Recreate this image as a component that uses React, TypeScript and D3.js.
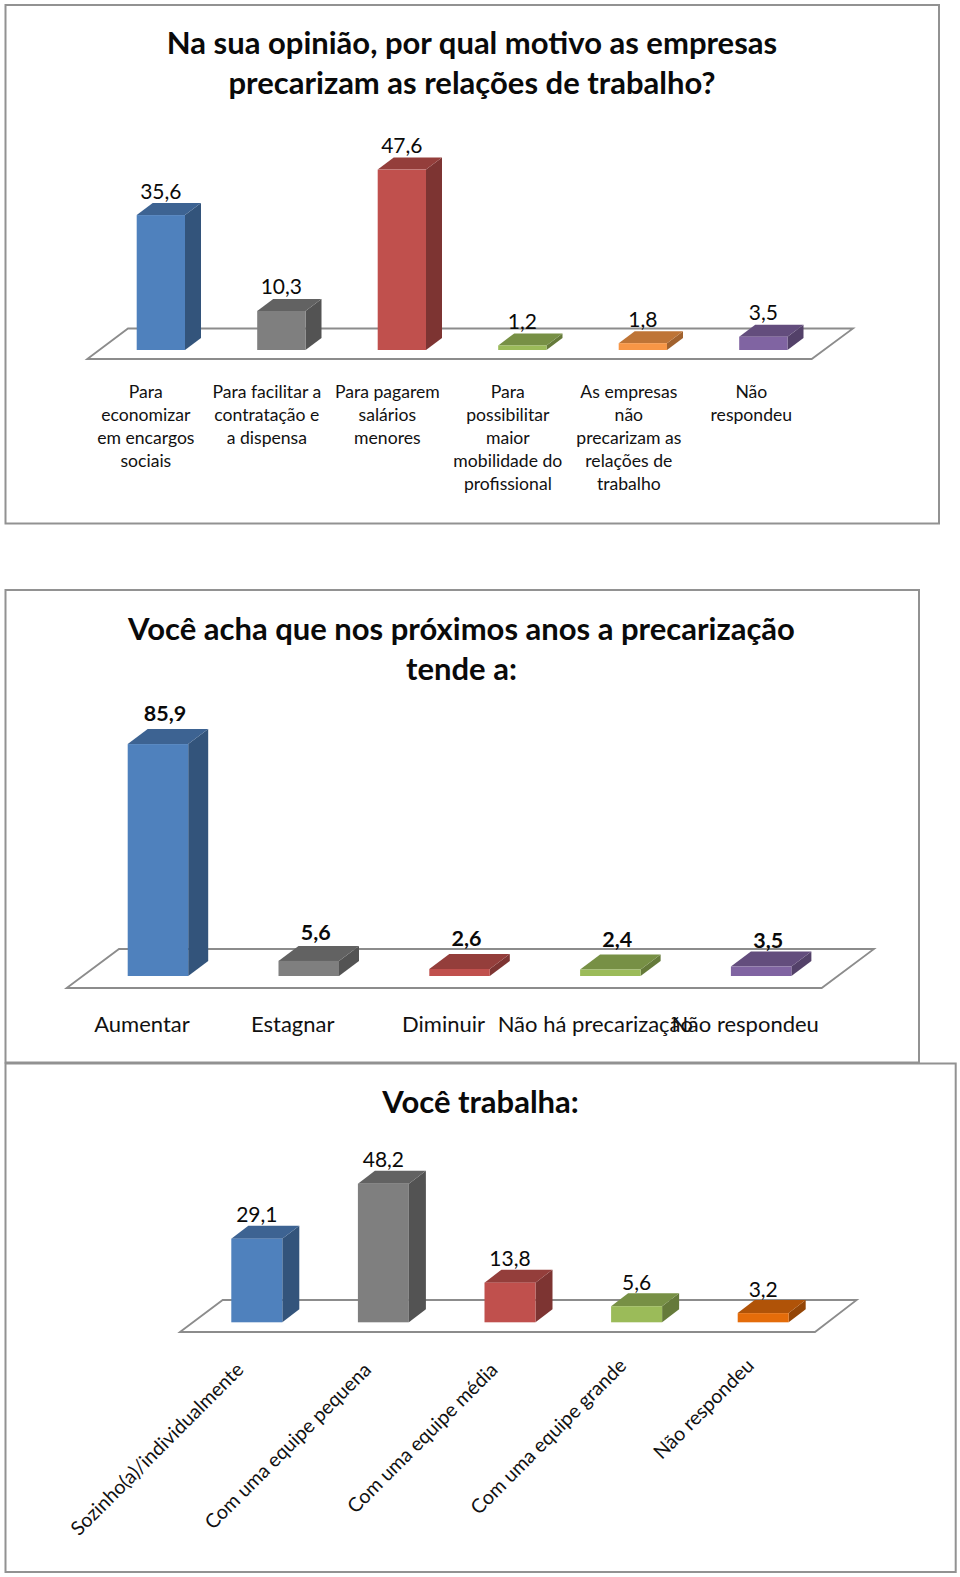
import { useEffect, useRef } from 'react'
import * as d3 from 'd3'

const motivoCategories = [
  'Para\neconomizar\nem encargos\nsociais',
  'Para facilitar a\ncontratação e\na dispensa',
  'Para pagarem\nsalários\nmenores',
  'Para\npossibilitar\nmaior\nmobilidade do\nprofissional',
  'As empresas\nnão\nprecarizam as\nrelações de\ntrabalho',
  'Não\nrespondeu',
]
const motivoValues = [35.6, 10.3, 47.6, 1.2, 1.8, 3.5]

const tendenciaCategories = ['Aumentar', 'Estagnar', 'Diminuir', 'Não há precarização', 'Não respondeu']
const tendenciaValues = [85.9, 5.6, 2.6, 2.4, 3.5]

const trabalhaCategories = [
  'Sozinho(a)/individualmente',
  'Com uma equipe pequena',
  'Com uma equipe média',
  'Com uma equipe grande',
  'Não respondeu',
]
const trabalhaValues = [29.1, 48.2, 13.8, 5.6, 3.2]

const blue = '#4f81bd'
const grey = '#7f7f7f'
const red = '#c0504d'
const green = '#9bbb59'
const orange = '#f79646'
const purple = '#8064a2'
const darkOrange = '#e46c0a'

const FONT = 'Lato, "Open Sans", sans-serif'

const fmt = (v: number) => v.toFixed(1).replace('.', ',')

const shade = (c: string, k: number) => {
  const r = d3.rgb(c)
  return d3.rgb(r.r * k, r.g * k, r.b * k).formatHex()
}

interface Panel {
  frame: [number, number, number, number]
  title: string[]
  titleX: number
  titleY: number
  categories: string[]
  values: number[]
  colors: string[]
  domainMax: number
  barLeft: number
  step: number
  barWidth: number
  base: number
  pxPerUnit: number
  dx: number
  dy: number
  floor: [number, number, number, number, number, number]
  labelBold?: boolean
  labelShift: number
  labelGaps: number[]
  labelSize: number
  catMode: 'wrap' | 'flat' | 'rotated'
  catSize: number
  catShift: number
  catY: number
  catNudgeX: number[]
  catNudgeY: number[]
}

const panels: Panel[] = [
  {
    frame: [5.5, 5, 939, 523.5],
    title: ['Na sua opinião, por qual motivo as empresas', 'precarizam as relações de trabalho?'],
    titleX: 472,
    titleY: 54,
    categories: motivoCategories,
    values: motivoValues,
    colors: [blue, grey, red, green, orange, purple],
    domainMax: 50,
    barLeft: 136.7,
    step: 120.5,
    barWidth: 48.3,
    base: 350,
    pxPerUnit: 3.79,
    dx: 16,
    dy: 12,
    floor: [87.3, 128, 853, 811.7, 328.5, 359],
    labelShift: 0,
    labelGaps: [16.5, 16.5, 16.5, 16.5, 16.5, 16.5],
    labelSize: 21,
    catMode: 'wrap',
    catSize: 17.6,
    catShift: -15,
    catY: 398,
    catNudgeX: [0, 0.5, 0.5, 0.5, 1, 3],
    catNudgeY: [0, 0, 0, 0, 0, 0],
  },
  {
    frame: [5.5, 590, 919, 1062.5],
    title: ['Você acha que nos próximos anos a precarização', 'tende a:'],
    titleX: 461.5,
    titleY: 639.5,
    categories: tendenciaCategories,
    values: tendenciaValues,
    colors: [blue, grey, red, green, purple],
    domainMax: 100,
    barLeft: 127.7,
    step: 150.8,
    barWidth: 60.5,
    base: 976,
    pxPerUnit: 2.7,
    dx: 20,
    dy: 15,
    floor: [66.7, 119, 874, 821.7, 949, 988],
    labelBold: true,
    labelShift: 7,
    labelGaps: [23, 21, 23, 23, 19],
    labelSize: 21.5,
    catMode: 'flat',
    catSize: 22,
    catShift: -16,
    catY: 1032,
    catNudgeX: [0, 0, 0, 1, 0],
    catNudgeY: [0, 0, 0, 0, 0],
  },
  {
    frame: [5.5, 1063.5, 955.7, 1572],
    title: ['Você trabalha:'],
    titleX: 480.6,
    titleY: 1112.5,
    categories: trabalhaCategories,
    values: trabalhaValues,
    colors: [blue, grey, red, green, darkOrange],
    domainMax: 60,
    barLeft: 231.3,
    step: 126.6,
    barWidth: 51,
    base: 1322.3,
    pxPerUnit: 2.875,
    dx: 17,
    dy: 13,
    floor: [180, 222.7, 856.7, 815, 1300, 1332],
    labelShift: 0,
    labelGaps: [16.3, 16.3, 16.3, 16.3, 16.3],
    labelSize: 21,
    catMode: 'rotated',
    catSize: 19.7,
    catShift: -13,
    catY: 1371,
    catNudgeX: [1, 2, 2, 4, 5],
    catNudgeY: [0, 0, 0, -4, -4],
  },
]

function drawPanel(svg: d3.Selection<SVGSVGElement, unknown, null, undefined>, p: Panel) {
  const [fx0, fy0, fx1, fy1] = p.frame
  const g = svg.append('g')

  g.append('rect')
    .attr('x', fx0)
    .attr('y', fy0)
    .attr('width', fx1 - fx0)
    .attr('height', fy1 - fy0)
    .attr('fill', '#fff')
    .attr('stroke', '#929292')
    .attr('stroke-width', 2)

  g.selectAll('text.title')
    .data(p.title)
    .enter()
    .append('text')
    .attr('class', 'title')
    .attr('x', p.titleX)
    .attr('y', (_, i) => p.titleY + i * 40)
    .attr('text-anchor', 'middle')
    .attr('font-family', FONT)
    .attr('font-weight', 700)
    .attr('font-size', 31)
    .attr('fill', '#0a0a0a')
    .text(d => d)

  const [fl, bl, br, fr, by, fy] = p.floor
  g.append('path')
    .attr('d', d3.line()([[fl, fy], [bl, by], [br, by], [fr, fy]]) + 'Z')
    .attr('fill', 'none')
    .attr('stroke', '#8c8c8c')
    .attr('stroke-width', 1.8)

  const n = p.categories.length
  const x = d3
    .scaleBand<string>()
    .domain(p.categories)
    .range([p.barLeft, p.barLeft + (n - 1) * p.step + p.barWidth])
    .paddingInner(1 - p.barWidth / p.step)
  const y = d3
    .scaleLinear()
    .domain([0, p.domainMax])
    .range([p.base, p.base - p.domainMax * p.pxPerUnit])

  const bars = g
    .selectAll('g.bar')
    .data(p.values)
    .enter()
    .append('g')
    .attr('class', 'bar')

  const left = (i: number) => x(p.categories[i]) as number
  const w = x.bandwidth()

  bars
    .append('path')
    .attr('fill', (_, i) => shade(p.colors[i], 0.65))
    .attr('d', (d, i) => {
      const r = left(i) + w
      return `M${r},${y(d)}L${r + p.dx},${y(d) - p.dy}L${r + p.dx},${p.base - p.dy}L${r},${p.base}Z`
    })
  bars
    .append('path')
    .attr('fill', (_, i) => shade(p.colors[i], 0.77))
    .attr('d', (d, i) => {
      const l = left(i)
      return `M${l},${y(d)}L${l + p.dx},${y(d) - p.dy}L${l + w + p.dx},${y(d) - p.dy}L${l + w},${y(d)}Z`
    })
  bars
    .append('rect')
    .attr('fill', (_, i) => p.colors[i])
    .attr('x', (_, i) => left(i))
    .attr('y', d => y(d))
    .attr('width', w)
    .attr('height', d => p.base - y(d))

  bars
    .append('text')
    .attr('x', (_, i) => left(i) + w / 2 + p.labelShift)
    .attr('y', (d, i) => y(d) - p.labelGaps[i])
    .attr('text-anchor', 'middle')
    .attr('font-family', FONT)
    .attr('font-size', p.labelSize)
    .attr('font-weight', p.labelBold ? 700 : 400)
    .attr('fill', '#0a0a0a')
    .text(d => fmt(d))

  const cats = g
    .selectAll('g.cat')
    .data(p.categories)
    .enter()
    .append('g')
    .attr('class', 'cat')
    .attr('font-family', FONT)
    .attr('font-size', p.catSize)
    .attr('fill', '#111')

  if (p.catMode === 'rotated') {
    cats
      .append('text')
      .attr('text-anchor', 'end')
      .attr(
        'transform',
        (d, i) =>
          `translate(${(x(d) as number) + w / 2 + p.catShift + p.catNudgeX[i]},${p.catY + p.catNudgeY[i]}) rotate(-45)`
      )
      .text(d => d)
  } else {
    const text = cats.append('text').attr('text-anchor', 'middle')
    text
      .selectAll('tspan')
      .data((d, i) => d.split('\n').map(line => ({ line, cat: d, nudge: p.catNudgeX[i] })))
      .enter()
      .append('tspan')
      .attr('x', d => (x(d.cat) as number) + w / 2 + p.catShift + d.nudge)
      .attr('y', (_, i) => p.catY + i * 23)
      .text(d => d.line)
  }
}

export default function App() {
  const svgRef = useRef<SVGSVGElement>(null)

  useEffect(() => {
    if (!svgRef.current) return
    const svg = d3.select(svgRef.current)
    svg.selectAll('*').remove()
    panels.forEach(p => drawPanel(svg, p))
  }, [])

  return (
    <svg
      ref={svgRef}
      width={960}
      height={1577}
      style={{ position: 'absolute', left: 0, top: 0, background: '#fff' }}
    />
  )
}
